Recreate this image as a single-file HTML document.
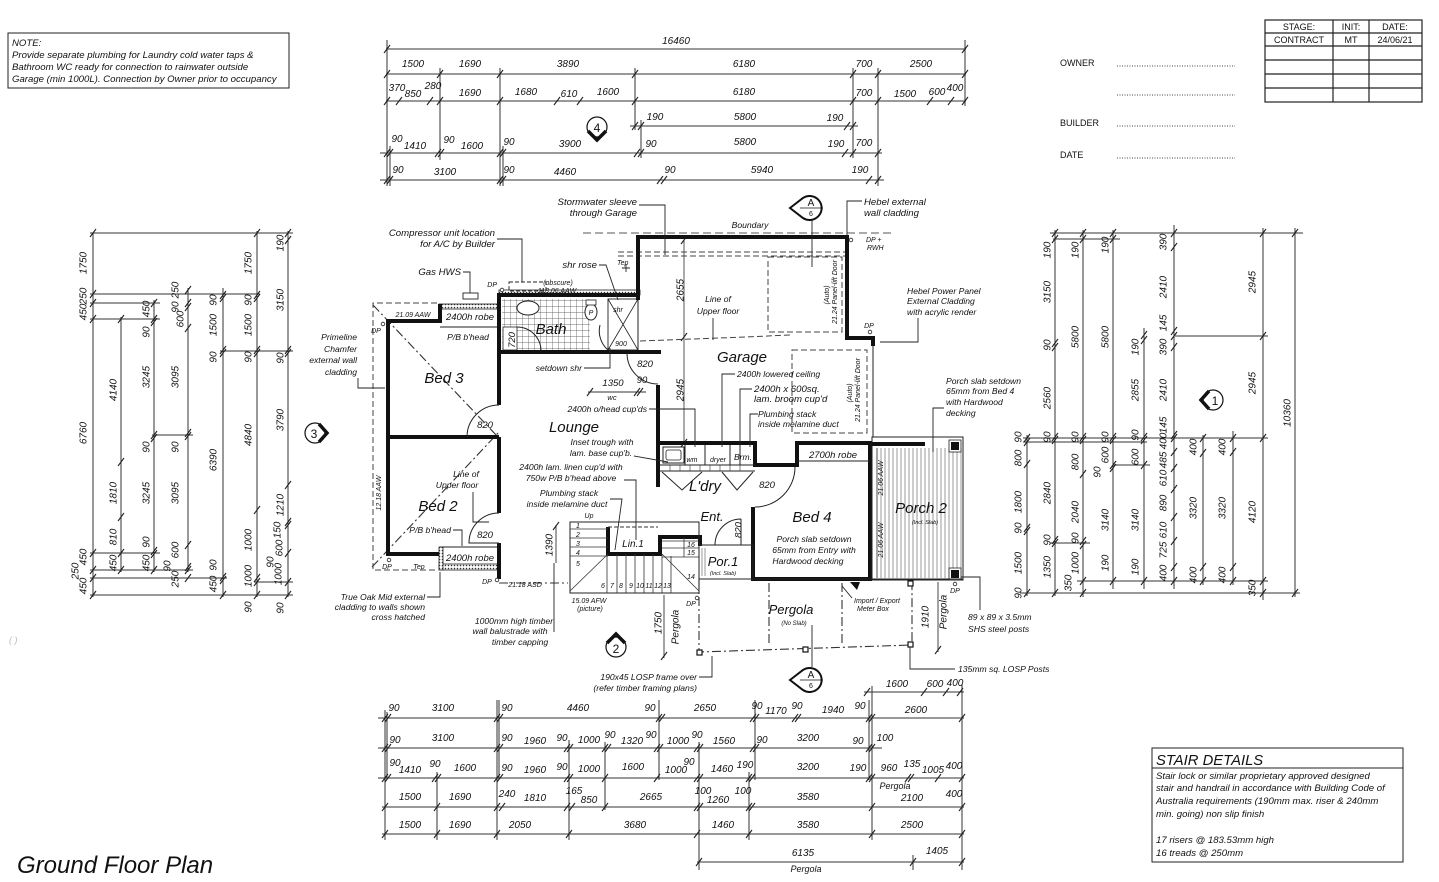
<!DOCTYPE html>
<html><head><meta charset="utf-8"><style>
html,body{margin:0;padding:0;background:#fff;}
svg{display:block}
text{font-family:"Liberation Sans",Arial,sans-serif;font-style:italic;fill:#111}
.d{font-size:10px;text-anchor:middle}
.s{font-size:8.6px}
.b{font-size:9.6px}
.x{font-size:7px}
.m{text-anchor:middle}
.e{text-anchor:end}
.rm{font-size:15px;text-anchor:middle}
.n{font-style:normal}
.dl line{stroke:#333;stroke-width:1}
.w{stroke:#111;stroke-width:4;fill:none}
.t{stroke:#222;stroke-width:1;fill:none}
.ds{stroke:#444;stroke-width:1;fill:none;stroke-dasharray:6,3}
.dd{stroke:#333;stroke-width:1.1;fill:none;stroke-dasharray:9,3,2,3}
</style></head><body>
<svg width="1439" height="882" viewBox="0 0 1439 882" xmlns="http://www.w3.org/2000/svg">
<defs>
<path id="k" d="M-3,4L3,-4" stroke="#222" stroke-width="1.1"/>
<pattern id="h" width="3" height="3" patternUnits="userSpaceOnUse"><rect width="3" height="3" fill="#fff"/><circle cx="1.5" cy="1.5" r="0.8" fill="#333"/></pattern>
<pattern id="tile" width="6" height="6" patternUnits="userSpaceOnUse"><rect width="6" height="6" fill="#fff"/><path d="M0,0H6M0,0V6" stroke="#444" stroke-width="0.7"/></pattern>
</defs>

<!-- NOTE BOX -->
<rect x="8" y="33" width="281" height="55" fill="none" stroke="#222" stroke-width="1"/>
<text x="12" y="46" class="b">NOTE:</text>
<text x="12" y="58" class="b">Provide separate plumbing for Laundry cold water taps &amp;</text>
<text x="12" y="70" class="b">Bathroom WC ready for connection to rainwater outside</text>
<text x="12" y="82" class="b">Garage (min 1000L). Connection by Owner prior to occupancy</text>

<!-- OWNER / BUILDER -->
<g font-size="9" style="font-style:normal">
<text x="1060" y="66" class="n" font-size="9">OWNER</text>
<text x="1060" y="126" class="n" font-size="9">BUILDER</text>
<text x="1060" y="158" class="n" font-size="9">DATE</text>
</g>
<g stroke="#444" stroke-width="1" stroke-dasharray="1,1.5">
<line x1="1117" y1="66" x2="1235" y2="66"/><line x1="1117" y1="95" x2="1235" y2="95"/>
<line x1="1117" y1="126" x2="1235" y2="126"/><line x1="1117" y1="158" x2="1235" y2="158"/>
</g>
<!-- STAGE TABLE -->
<g stroke="#222" stroke-width="1.2" fill="none">
<rect x="1265" y="20" width="157" height="82"/>
<line x1="1333" y1="20" x2="1333" y2="102"/><line x1="1369" y1="20" x2="1369" y2="102"/>
<line x1="1265" y1="33" x2="1422" y2="33"/><line x1="1265" y1="46" x2="1422" y2="46"/>
<line x1="1265" y1="60" x2="1422" y2="60"/><line x1="1265" y1="74" x2="1422" y2="74"/>
<line x1="1265" y1="88" x2="1422" y2="88"/>
</g>
<g font-size="9">
<text x="1299" y="30" class="n m" font-size="9">STAGE:</text>
<text x="1351" y="30" class="n m" font-size="9">INIT:</text>
<text x="1395" y="30" class="n m" font-size="9">DATE:</text>
<text x="1299" y="43" class="n m" font-size="9">CONTRACT</text>
<text x="1351" y="43" class="n m" font-size="9">MT</text>
<text x="1395" y="43" class="n m" font-size="9">24/06/21</text>
</g>

<!-- TOP DIMENSIONS -->
<g class="dl">
<line x1="386" y1="49" x2="966" y2="49"/>
<line x1="386" y1="74" x2="966" y2="74"/>
<line x1="386" y1="101" x2="966" y2="101"/>
<line x1="630" y1="126" x2="858" y2="126"/>
<line x1="380" y1="153" x2="882" y2="153"/>
<line x1="380" y1="180" x2="884" y2="180"/>
<line x1="387" y1="40" x2="387" y2="186"/>
<line x1="390" y1="146" x2="390" y2="186"/>
<line x1="440" y1="68" x2="440" y2="160"/>
<line x1="500" y1="68" x2="500" y2="186"/>
<line x1="503" y1="146" x2="503" y2="186"/>
<line x1="635" y1="68" x2="635" y2="130"/>
<line x1="641" y1="120" x2="641" y2="158"/>
<line x1="853" y1="68" x2="853" y2="158"/>
<line x1="878" y1="68" x2="878" y2="186"/>
<line x1="965" y1="40" x2="965" y2="106"/>
</g>
<g>
<use href="#k" x="387" y="49"/><use href="#k" x="965" y="49"/>
<use href="#k" x="387" y="74"/><use href="#k" x="440" y="74"/><use href="#k" x="500" y="74"/><use href="#k" x="635" y="74"/><use href="#k" x="853" y="74"/><use href="#k" x="878" y="74"/><use href="#k" x="965" y="74"/>
<use href="#k" x="387" y="101"/><use href="#k" x="399" y="101"/><use href="#k" x="430" y="101"/><use href="#k" x="440" y="101"/><use href="#k" x="500" y="101"/><use href="#k" x="557" y="101"/><use href="#k" x="580" y="101"/><use href="#k" x="635" y="101"/><use href="#k" x="853" y="101"/><use href="#k" x="878" y="101"/><use href="#k" x="930" y="101"/><use href="#k" x="951" y="101"/><use href="#k" x="965" y="101"/>
<use href="#k" x="635" y="126"/><use href="#k" x="641" y="126"/><use href="#k" x="847" y="126"/><use href="#k" x="853" y="126"/>
<use href="#k" x="387" y="153"/><use href="#k" x="390" y="153"/><use href="#k" x="438" y="153"/><use href="#k" x="441" y="153"/><use href="#k" x="500" y="153"/><use href="#k" x="503" y="153"/><use href="#k" x="637" y="153"/><use href="#k" x="641" y="153"/><use href="#k" x="845" y="153"/><use href="#k" x="853" y="153"/><use href="#k" x="878" y="153"/>
<use href="#k" x="387" y="180"/><use href="#k" x="390" y="180"/><use href="#k" x="500" y="180"/><use href="#k" x="503" y="180"/><use href="#k" x="660" y="180"/><use href="#k" x="664" y="180"/><use href="#k" x="869" y="180"/><use href="#k" x="878" y="180"/>
</g>
<g class="d">
<text x="676" y="44" class="d">16460</text>
<text x="413" y="67" class="d">1500</text><text x="470" y="67" class="d">1690</text><text x="568" y="67" class="d">3890</text><text x="744" y="67" class="d">6180</text><text x="864" y="67" class="d">700</text><text x="921" y="67" class="d">2500</text>
<text x="397" y="91" class="d">370</text><text x="413" y="97" class="d">850</text><text x="433" y="89" class="d">280</text><text x="470" y="96" class="d">1690</text><text x="526" y="95" class="d">1680</text><text x="569" y="97" class="d">610</text><text x="608" y="95" class="d">1600</text><text x="744" y="95" class="d">6180</text><text x="864" y="96" class="d">700</text><text x="905" y="97" class="d">1500</text><text x="937" y="95" class="d">600</text><text x="955" y="91" class="d">400</text>
<text x="655" y="120" class="d">190</text><text x="745" y="120" class="d">5800</text><text x="835" y="121" class="d">190</text>
<text x="397" y="142" class="d">90</text><text x="415" y="149" class="d">1410</text><text x="449" y="143" class="d">90</text><text x="472" y="149" class="d">1600</text><text x="509" y="145" class="d">90</text><text x="570" y="147" class="d">3900</text><text x="651" y="147" class="d">90</text><text x="745" y="145" class="d">5800</text><text x="836" y="147" class="d">190</text><text x="864" y="146" class="d">700</text>
<text x="398" y="173" class="d">90</text><text x="445" y="175" class="d">3100</text><text x="509" y="173" class="d">90</text><text x="565" y="175" class="d">4460</text><text x="670" y="173" class="d">90</text><text x="762" y="173" class="d">5940</text><text x="860" y="173" class="d">190</text>
</g>

<!-- LEFT DIMENSIONS -->
<g class="dl">
<line x1="93" y1="233" x2="93" y2="597"/>
<line x1="121" y1="317" x2="121" y2="572"/>
<line x1="154" y1="300" x2="154" y2="572"/>
<line x1="188" y1="288" x2="188" y2="572"/>
<line x1="223" y1="288" x2="223" y2="597"/>
<line x1="257" y1="231" x2="257" y2="597"/>
<line x1="288" y1="231" x2="288" y2="597"/>
<line x1="90" y1="233" x2="293" y2="233"/>
<line x1="90" y1="294" x2="260" y2="294"/>
<line x1="90" y1="303" x2="160" y2="303"/>
<line x1="90" y1="319" x2="160" y2="319"/>
<line x1="220" y1="351" x2="293" y2="351"/>
<line x1="152" y1="435" x2="193" y2="435"/>
<line x1="90" y1="553" x2="160" y2="553"/>
<line x1="90" y1="570" x2="193" y2="570"/>
<line x1="90" y1="578" x2="227" y2="578"/>
<line x1="90" y1="595" x2="293" y2="595"/>
<line x1="254" y1="582" x2="293" y2="582"/>
</g>
<g>
<use href="#k" x="93" y="233"/><use href="#k" x="93" y="294"/><use href="#k" x="93" y="303"/><use href="#k" x="93" y="319"/><use href="#k" x="93" y="553"/><use href="#k" x="93" y="570"/><use href="#k" x="93" y="578"/><use href="#k" x="93" y="595"/>
<use href="#k" x="121" y="319"/><use href="#k" x="121" y="462"/><use href="#k" x="121" y="517"/><use href="#k" x="121" y="553"/><use href="#k" x="121" y="570"/>
<use href="#k" x="154" y="303"/><use href="#k" x="154" y="319"/><use href="#k" x="154" y="322"/><use href="#k" x="154" y="435"/><use href="#k" x="154" y="438"/><use href="#k" x="154" y="551"/><use href="#k" x="154" y="554"/><use href="#k" x="154" y="570"/>
<use href="#k" x="188" y="290"/><use href="#k" x="188" y="303"/><use href="#k" x="188" y="307"/><use href="#k" x="188" y="328"/><use href="#k" x="188" y="433"/><use href="#k" x="188" y="436"/><use href="#k" x="188" y="545"/><use href="#k" x="188" y="567"/><use href="#k" x="188" y="570"/><use href="#k" x="188" y="578"/>
<use href="#k" x="223" y="295"/><use href="#k" x="223" y="298"/><use href="#k" x="223" y="350"/><use href="#k" x="223" y="353"/><use href="#k" x="223" y="577"/><use href="#k" x="223" y="580"/><use href="#k" x="223" y="595"/>
<use href="#k" x="257" y="233"/><use href="#k" x="257" y="295"/><use href="#k" x="257" y="298"/><use href="#k" x="257" y="350"/><use href="#k" x="257" y="353"/><use href="#k" x="257" y="510"/><use href="#k" x="257" y="578"/><use href="#k" x="257" y="582"/><use href="#k" x="257" y="595"/>
<use href="#k" x="288" y="233"/><use href="#k" x="288" y="240"/><use href="#k" x="288" y="350"/><use href="#k" x="288" y="353"/><use href="#k" x="288" y="485"/><use href="#k" x="288" y="522"/><use href="#k" x="288" y="525"/><use href="#k" x="288" y="553"/><use href="#k" x="288" y="582"/><use href="#k" x="288" y="595"/>
</g>
<g class="d">
<text class="d" transform="translate(86.5,263) rotate(-90)">1750</text>
<text class="d" transform="translate(86.5,296) rotate(-90)">250</text>
<text class="d" transform="translate(86.5,312) rotate(-90)">450</text>
<text class="d" transform="translate(86.5,433) rotate(-90)">6760</text>
<text class="d" transform="translate(86.5,557) rotate(-90)">450</text>
<text class="d" transform="translate(78.5,571) rotate(-90)">250</text>
<text class="d" transform="translate(86.5,586) rotate(-90)">450</text>
<text class="d" transform="translate(116.5,390) rotate(-90)">4140</text>
<text class="d" transform="translate(116.5,493) rotate(-90)">1810</text>
<text class="d" transform="translate(116.5,537) rotate(-90)">810</text>
<text class="d" transform="translate(116.5,563) rotate(-90)">450</text>
<text class="d" transform="translate(149.5,309) rotate(-90)">450</text>
<text class="d" transform="translate(149.5,332) rotate(-90)">90</text>
<text class="d" transform="translate(149.5,377) rotate(-90)">3245</text>
<text class="d" transform="translate(149.5,447) rotate(-90)">90</text>
<text class="d" transform="translate(149.5,493) rotate(-90)">3245</text>
<text class="d" transform="translate(149.5,542) rotate(-90)">90</text>
<text class="d" transform="translate(149.5,563) rotate(-90)">450</text>
<text class="d" transform="translate(178.5,290) rotate(-90)">250</text>
<text class="d" transform="translate(178.5,307) rotate(-90)">90</text>
<text class="d" transform="translate(183.5,319) rotate(-90)">600</text>
<text class="d" transform="translate(178.5,377) rotate(-90)">3095</text>
<text class="d" transform="translate(178.5,447) rotate(-90)">90</text>
<text class="d" transform="translate(178.5,493) rotate(-90)">3095</text>
<text class="d" transform="translate(178.5,550) rotate(-90)">600</text>
<text class="d" transform="translate(170.5,566) rotate(-90)">90</text>
<text class="d" transform="translate(178.5,579) rotate(-90)">250</text>
<text class="d" transform="translate(216.5,300) rotate(-90)">90</text>
<text class="d" transform="translate(216.5,325) rotate(-90)">1500</text>
<text class="d" transform="translate(216.5,357) rotate(-90)">90</text>
<text class="d" transform="translate(216.5,460) rotate(-90)">6390</text>
<text class="d" transform="translate(216.5,565) rotate(-90)">90</text>
<text class="d" transform="translate(216.5,584) rotate(-90)">450</text>
<text class="d" transform="translate(251.5,263) rotate(-90)">1750</text>
<text class="d" transform="translate(251.5,300) rotate(-90)">90</text>
<text class="d" transform="translate(251.5,325) rotate(-90)">1500</text>
<text class="d" transform="translate(251.5,357) rotate(-90)">90</text>
<text class="d" transform="translate(251.5,435) rotate(-90)">4840</text>
<text class="d" transform="translate(251.5,540) rotate(-90)">1000</text>
<text class="d" transform="translate(251.5,576) rotate(-90)">1000</text>
<text class="d" transform="translate(251.5,607) rotate(-90)">90</text>
<text class="d" transform="translate(283.5,243) rotate(-90)">190</text>
<text class="d" transform="translate(283.5,300) rotate(-90)">3150</text>
<text class="d" transform="translate(283.5,358) rotate(-90)">90</text>
<text class="d" transform="translate(283.5,420) rotate(-90)">3790</text>
<text class="d" transform="translate(283.5,505) rotate(-90)">1210</text>
<text class="d" transform="translate(280.5,530) rotate(-90)">150</text>
<text class="d" transform="translate(282.5,548) rotate(-90)">600</text>
<text class="d" transform="translate(273.5,562) rotate(-90)">90</text>
<text class="d" transform="translate(281.5,574) rotate(-90)">1000</text>
<text class="d" transform="translate(283.5,608) rotate(-90)">90</text>
</g>

<!-- RIGHT DIMENSIONS -->
<g class="dl">
<line x1="1027" y1="435" x2="1027" y2="596"/>
<line x1="1055" y1="230" x2="1055" y2="596"/>
<line x1="1083" y1="230" x2="1083" y2="597"/>
<line x1="1113" y1="230" x2="1113" y2="589"/>
<line x1="1144" y1="328" x2="1144" y2="589"/>
<line x1="1174" y1="225" x2="1174" y2="589"/>
<line x1="1203" y1="435" x2="1203" y2="585"/>
<line x1="1233" y1="431" x2="1233" y2="585"/>
<line x1="1263" y1="228" x2="1263" y2="600"/>
<line x1="1295" y1="228" x2="1295" y2="597"/>
<line x1="1050" y1="233" x2="1303" y2="233"/>
<line x1="1053" y1="239" x2="1120" y2="239"/>
<line x1="1175" y1="336" x2="1268" y2="336"/>
<line x1="1023" y1="438" x2="1268" y2="438"/>
<line x1="1023" y1="442" x2="1147" y2="442"/>
<line x1="1113" y1="465" x2="1150" y2="465"/>
<line x1="1050" y1="543" x2="1090" y2="543"/>
<line x1="1077" y1="581" x2="1268" y2="581"/>
<line x1="1020" y1="593" x2="1300" y2="593"/>
</g>
<g>
<use href="#k" x="1027" y="438"/><use href="#k" x="1027" y="442"/><use href="#k" x="1027" y="464"/><use href="#k" x="1027" y="528"/><use href="#k" x="1027" y="531"/><use href="#k" x="1027" y="593"/>
<use href="#k" x="1055" y="233"/><use href="#k" x="1055" y="239"/><use href="#k" x="1055" y="343"/><use href="#k" x="1055" y="347"/><use href="#k" x="1055" y="437"/><use href="#k" x="1055" y="440"/><use href="#k" x="1055" y="540"/><use href="#k" x="1055" y="543"/><use href="#k" x="1055" y="593"/>
<use href="#k" x="1083" y="233"/><use href="#k" x="1083" y="239"/><use href="#k" x="1083" y="437"/><use href="#k" x="1083" y="440"/><use href="#k" x="1083" y="474"/><use href="#k" x="1083" y="541"/><use href="#k" x="1083" y="545"/><use href="#k" x="1083" y="581"/><use href="#k" x="1083" y="593"/>
<use href="#k" x="1113" y="233"/><use href="#k" x="1113" y="239"/><use href="#k" x="1113" y="437"/><use href="#k" x="1113" y="440"/><use href="#k" x="1113" y="465"/><use href="#k" x="1113" y="468"/><use href="#k" x="1113" y="581"/>
<use href="#k" x="1144" y="335"/><use href="#k" x="1144" y="340"/><use href="#k" x="1144" y="437"/><use href="#k" x="1144" y="440"/><use href="#k" x="1144" y="465"/><use href="#k" x="1144" y="581"/>
<use href="#k" x="1174" y="233"/><use href="#k" x="1174" y="247"/><use href="#k" x="1174" y="331"/><use href="#k" x="1174" y="336"/><use href="#k" x="1174" y="347"/><use href="#k" x="1174" y="435"/><use href="#k" x="1174" y="438"/><use href="#k" x="1174" y="452"/><use href="#k" x="1174" y="468"/><use href="#k" x="1174" y="489"/><use href="#k" x="1174" y="517"/><use href="#k" x="1174" y="541"/><use href="#k" x="1174" y="567"/><use href="#k" x="1174" y="581"/>
<use href="#k" x="1203" y="438"/><use href="#k" x="1203" y="453"/><use href="#k" x="1203" y="567"/><use href="#k" x="1203" y="581"/>
<use href="#k" x="1233" y="438"/><use href="#k" x="1233" y="452"/><use href="#k" x="1233" y="567"/><use href="#k" x="1233" y="581"/>
<use href="#k" x="1263" y="233"/><use href="#k" x="1263" y="336"/><use href="#k" x="1263" y="438"/><use href="#k" x="1263" y="581"/><use href="#k" x="1263" y="593"/>
<use href="#k" x="1295" y="233"/><use href="#k" x="1295" y="593"/>
</g>
<g class="d">
<text class="d" transform="translate(1021.5,437) rotate(-90)">90</text>
<text class="d" transform="translate(1021.5,458) rotate(-90)">800</text>
<text class="d" transform="translate(1021.5,502) rotate(-90)">1800</text>
<text class="d" transform="translate(1021.5,528) rotate(-90)">90</text>
<text class="d" transform="translate(1021.5,563) rotate(-90)">1500</text>
<text class="d" transform="translate(1021.5,593) rotate(-90)">90</text>
<text class="d" transform="translate(1050.5,250) rotate(-90)">190</text>
<text class="d" transform="translate(1050.5,292) rotate(-90)">3150</text>
<text class="d" transform="translate(1050.5,345) rotate(-90)">90</text>
<text class="d" transform="translate(1050.5,398) rotate(-90)">2560</text>
<text class="d" transform="translate(1050.5,437) rotate(-90)">90</text>
<text class="d" transform="translate(1050.5,493) rotate(-90)">2840</text>
<text class="d" transform="translate(1050.5,540) rotate(-90)">90</text>
<text class="d" transform="translate(1050.5,567) rotate(-90)">1350</text>
<text class="d" transform="translate(1078.5,250) rotate(-90)">190</text>
<text class="d" transform="translate(1078.5,337) rotate(-90)">5800</text>
<text class="d" transform="translate(1078.5,437) rotate(-90)">90</text>
<text class="d" transform="translate(1078.5,462) rotate(-90)">800</text>
<text class="d" transform="translate(1078.5,512) rotate(-90)">2040</text>
<text class="d" transform="translate(1078.5,538) rotate(-90)">90</text>
<text class="d" transform="translate(1078.5,563) rotate(-90)">1000</text>
<text class="d" transform="translate(1071.5,583) rotate(-90)">350</text>
<text class="d" transform="translate(1108.5,245) rotate(-90)">190</text>
<text class="d" transform="translate(1108.5,337) rotate(-90)">5800</text>
<text class="d" transform="translate(1108.5,437) rotate(-90)">90</text>
<text class="d" transform="translate(1108.5,455) rotate(-90)">600</text>
<text class="d" transform="translate(1100.5,472) rotate(-90)">90</text>
<text class="d" transform="translate(1108.5,520) rotate(-90)">3140</text>
<text class="d" transform="translate(1108.5,563) rotate(-90)">190</text>
<text class="d" transform="translate(1138.5,347) rotate(-90)">190</text>
<text class="d" transform="translate(1138.5,390) rotate(-90)">2855</text>
<text class="d" transform="translate(1138.5,435) rotate(-90)">90</text>
<text class="d" transform="translate(1138.5,457) rotate(-90)">600</text>
<text class="d" transform="translate(1138.5,520) rotate(-90)">3140</text>
<text class="d" transform="translate(1138.5,567) rotate(-90)">190</text>
<text class="d" transform="translate(1166.5,242) rotate(-90)">390</text>
<text class="d" transform="translate(1166.5,287) rotate(-90)">2410</text>
<text class="d" transform="translate(1166.5,323) rotate(-90)">145</text>
<text class="d" transform="translate(1166.5,347) rotate(-90)">390</text>
<text class="d" transform="translate(1166.5,390) rotate(-90)">2410</text>
<text class="d" transform="translate(1166.5,425) rotate(-90)">145</text>
<text class="d" transform="translate(1166.5,441) rotate(-90)">400</text>
<text class="d" transform="translate(1166.5,460) rotate(-90)">485</text>
<text class="d" transform="translate(1166.5,478) rotate(-90)">610</text>
<text class="d" transform="translate(1166.5,503) rotate(-90)">890</text>
<text class="d" transform="translate(1166.5,530) rotate(-90)">610</text>
<text class="d" transform="translate(1166.5,550) rotate(-90)">725</text>
<text class="d" transform="translate(1166.5,573) rotate(-90)">400</text>
<text class="d" transform="translate(1196.5,447) rotate(-90)">400</text>
<text class="d" transform="translate(1196.5,508) rotate(-90)">3320</text>
<text class="d" transform="translate(1196.5,575) rotate(-90)">400</text>
<text class="d" transform="translate(1225.5,447) rotate(-90)">400</text>
<text class="d" transform="translate(1225.5,508) rotate(-90)">3320</text>
<text class="d" transform="translate(1225.5,575) rotate(-90)">400</text>
<text class="d" transform="translate(1255.5,282) rotate(-90)">2945</text>
<text class="d" transform="translate(1255.5,383) rotate(-90)">2945</text>
<text class="d" transform="translate(1255.5,512) rotate(-90)">4120</text>
<text class="d" transform="translate(1255.5,588) rotate(-90)">350</text>
<text class="d" transform="translate(1290.5,413) rotate(-90)">10360</text>
</g>

<!-- BOTTOM DIMENSIONS -->
<g class="dl">
<line x1="864" y1="692" x2="964" y2="692"/>
<line x1="378" y1="718" x2="964" y2="718"/>
<line x1="378" y1="748" x2="882" y2="748"/>
<line x1="378" y1="778" x2="964" y2="778"/>
<line x1="382" y1="807" x2="964" y2="807"/>
<line x1="382" y1="834" x2="964" y2="834"/>
<line x1="697" y1="862" x2="964" y2="862"/>
<line x1="385" y1="710" x2="385" y2="840"/>
<line x1="387" y1="712" x2="387" y2="780"/>
<line x1="437" y1="772" x2="437" y2="840"/>
<line x1="497" y1="700" x2="497" y2="840"/>
<line x1="499" y1="700" x2="499" y2="780"/>
<line x1="569" y1="740" x2="569" y2="840"/>
<line x1="605" y1="742" x2="605" y2="810"/>
<line x1="659" y1="700" x2="659" y2="780"/>
<line x1="699" y1="742" x2="699" y2="870"/>
<line x1="749" y1="772" x2="749" y2="840"/>
<line x1="755" y1="700" x2="755" y2="780"/>
<line x1="869" y1="700" x2="869" y2="780"/>
<line x1="872" y1="686" x2="872" y2="840"/>
<line x1="913" y1="855" x2="913" y2="870"/>
<line x1="962" y1="684" x2="962" y2="870"/>
</g>
<g>
<use href="#k" x="867" y="692"/><use href="#k" x="924" y="692"/><use href="#k" x="946" y="692"/><use href="#k" x="960" y="692"/>
<use href="#k" x="385" y="718"/><use href="#k" x="388" y="718"/><use href="#k" x="497" y="718"/><use href="#k" x="500" y="718"/><use href="#k" x="659" y="718"/><use href="#k" x="662" y="718"/><use href="#k" x="753" y="718"/><use href="#k" x="756" y="718"/><use href="#k" x="795" y="718"/><use href="#k" x="798" y="718"/><use href="#k" x="869" y="718"/><use href="#k" x="872" y="718"/><use href="#k" x="962" y="718"/>
<use href="#k" x="385" y="748"/><use href="#k" x="388" y="748"/><use href="#k" x="497" y="748"/><use href="#k" x="500" y="748"/><use href="#k" x="567" y="748"/><use href="#k" x="570" y="748"/><use href="#k" x="605" y="748"/><use href="#k" x="608" y="748"/><use href="#k" x="657" y="748"/><use href="#k" x="660" y="748"/><use href="#k" x="697" y="748"/><use href="#k" x="700" y="748"/><use href="#k" x="753" y="748"/><use href="#k" x="756" y="748"/><use href="#k" x="869" y="748"/><use href="#k" x="872" y="748"/>
<use href="#k" x="385" y="778"/><use href="#k" x="388" y="778"/><use href="#k" x="435" y="778"/><use href="#k" x="438" y="778"/><use href="#k" x="497" y="778"/><use href="#k" x="500" y="778"/><use href="#k" x="567" y="778"/><use href="#k" x="570" y="778"/><use href="#k" x="605" y="778"/><use href="#k" x="657" y="778"/><use href="#k" x="697" y="778"/><use href="#k" x="700" y="778"/><use href="#k" x="749" y="778"/><use href="#k" x="752" y="778"/><use href="#k" x="869" y="778"/><use href="#k" x="872" y="778"/><use href="#k" x="908" y="778"/><use href="#k" x="911" y="778"/><use href="#k" x="938" y="778"/><use href="#k" x="962" y="778"/>
<use href="#k" x="385" y="807"/><use href="#k" x="437" y="807"/><use href="#k" x="497" y="807"/><use href="#k" x="502" y="807"/><use href="#k" x="567" y="807"/><use href="#k" x="572" y="807"/><use href="#k" x="605" y="807"/><use href="#k" x="697" y="807"/><use href="#k" x="700" y="807"/><use href="#k" x="749" y="807"/><use href="#k" x="752" y="807"/><use href="#k" x="872" y="807"/><use href="#k" x="962" y="807"/>
<use href="#k" x="385" y="834"/><use href="#k" x="437" y="834"/><use href="#k" x="497" y="834"/><use href="#k" x="569" y="834"/><use href="#k" x="697" y="834"/><use href="#k" x="749" y="834"/><use href="#k" x="872" y="834"/><use href="#k" x="962" y="834"/>
<use href="#k" x="699" y="862"/><use href="#k" x="913" y="862"/><use href="#k" x="962" y="862"/>
</g>
<g class="d">
<text x="897" y="687" class="d">1600</text><text x="935" y="687" class="d">600</text><text x="955" y="686" class="d">400</text>
<text x="394" y="711" class="d">90</text><text x="443" y="711" class="d">3100</text><text x="507" y="711" class="d">90</text><text x="578" y="711" class="d">4460</text><text x="650" y="711" class="d">90</text><text x="705" y="711" class="d">2650</text><text x="757" y="709" class="d">90</text><text x="776" y="714" class="d">1170</text><text x="797" y="709" class="d">90</text><text x="833" y="713" class="d">1940</text><text x="860" y="709" class="d">90</text><text x="916" y="713" class="d">2600</text>
<text x="395" y="743" class="d">90</text><text x="443" y="741" class="d">3100</text><text x="507" y="741" class="d">90</text><text x="535" y="744" class="d">1960</text><text x="562" y="741" class="d">90</text><text x="589" y="743" class="d">1000</text><text x="610" y="738" class="d">90</text><text x="632" y="744" class="d">1320</text><text x="651" y="738" class="d">90</text><text x="678" y="744" class="d">1000</text><text x="697" y="738" class="d">90</text><text x="724" y="744" class="d">1560</text><text x="762" y="743" class="d">90</text><text x="808" y="741" class="d">3200</text><text x="858" y="744" class="d">90</text><text x="885" y="741" class="d">100</text>
<text x="395" y="766" class="d">90</text><text x="410" y="773" class="d">1410</text><text x="435" y="767" class="d">90</text><text x="465" y="771" class="d">1600</text><text x="507" y="771" class="d">90</text><text x="535" y="773" class="d">1960</text><text x="562" y="770" class="d">90</text><text x="589" y="772" class="d">1000</text><text x="633" y="770" class="d">1600</text><text x="676" y="773" class="d">1000</text><text x="689" y="765" class="d">90</text><text x="722" y="772" class="d">1460</text><text x="745" y="768" class="d">190</text><text x="808" y="770" class="d">3200</text><text x="858" y="771" class="d">190</text><text x="889" y="771" class="d">960</text><text x="912" y="767" class="d">135</text><text x="933" y="773" class="d">1005</text><text x="954" y="769" class="d">400</text>
<text x="410" y="800" class="d">1500</text><text x="460" y="800" class="d">1690</text><text x="507" y="797" class="d">240</text><text x="535" y="801" class="d">1810</text><text x="574" y="794" class="d">165</text><text x="589" y="803" class="d">850</text><text x="651" y="800" class="d">2665</text><text x="703" y="794" class="d">100</text><text x="718" y="803" class="d">1260</text><text x="743" y="794" class="d">100</text><text x="808" y="800" class="d">3580</text><text x="895" y="789" class="d" style="font-size:9px">Pergola</text><text x="912" y="801" class="d">2100</text><text x="954" y="797" class="d">400</text>
<text x="410" y="828" class="d">1500</text><text x="460" y="828" class="d">1690</text><text x="520" y="828" class="d">2050</text><text x="635" y="828" class="d">3680</text><text x="723" y="828" class="d">1460</text><text x="808" y="828" class="d">3580</text><text x="912" y="828" class="d">2500</text>
<text x="803" y="856" class="d">6135</text><text x="937" y="854" class="d">1405</text>
<text x="806" y="872" class="d" style="font-size:9px">Pergola</text>
</g>

<!-- PLAN : dashed / dash-dot lines -->
<line x1="583" y1="233" x2="892" y2="233" stroke="#555" stroke-width="1" stroke-dasharray="8,4"/>
<line x1="618" y1="252" x2="850" y2="252" class="ds"/>
<line x1="618" y1="256" x2="850" y2="256" class="ds"/>
<polyline points="437,303 373,303 373,570 437,570" class="ds"/>
<line x1="373" y1="305" x2="498" y2="437" class="dd"/>
<line x1="372" y1="567" x2="499" y2="432" class="dd"/>
<polyline points="640,341 745,337 790,335" class="ds"/>
<rect x="768" y="257" width="74" height="75" class="ds"/>
<rect x="792" y="350" width="75" height="83" class="ds"/>
<line x1="684" y1="240" x2="684" y2="443" stroke="#444" stroke-width="0.9"/>
<use href="#k" x="684" y="240"/><use href="#k" x="684" y="337"/><use href="#k" x="684" y="443"/>
<polyline points="699,580 699,652 912,645 912,580" class="dd"/>
<line x1="769" y1="583" x2="769" y2="645" class="dd"/>
<line x1="842" y1="583" x2="842" y2="645" class="dd"/>
<line x1="499" y1="583" x2="568" y2="583" class="dd"/>

<!-- hatched cladding strips -->
<rect x="439" y="304" width="59" height="5" fill="url(#h)" stroke="#222" stroke-width="0.8"/>
<rect x="499" y="290" width="141" height="5" fill="url(#h)" stroke="#222" stroke-width="0.8"/>
<rect x="439" y="564" width="60" height="6" fill="url(#h)" stroke="#222" stroke-width="0.8"/>
<rect x="439" y="547" width="4" height="23" fill="url(#h)" stroke="#222" stroke-width="0.8"/>

<!-- Bath interior -->
<rect x="502" y="299" width="88" height="51" fill="url(#tile)"/>
<rect x="503" y="327" width="14" height="23" fill="#fff" stroke="#222" stroke-width="0.8"/>
<ellipse cx="528" cy="308" rx="11" ry="7" fill="#fff" stroke="#222" stroke-width="1"/>
<ellipse cx="591" cy="312" rx="6" ry="8" fill="#fff" stroke="#222" stroke-width="1"/>
<rect x="586" y="300" width="10" height="5" fill="#fff" stroke="#222" stroke-width="0.8"/>
<rect x="608" y="299" width="30" height="51" fill="none" stroke="#222" stroke-width="0.9"/>
<path d="M608,299 L638,350 M638,299 L608,350" stroke="#222" stroke-width="0.8"/>
<path d="M517,327 A24,24 0 0 1 541,351" class="t"/>
<path d="M600,325 A25,25 0 0 0 608,350" class="t"/>

<!-- WALLS -->
<path d="M440,321 H388 V554 H439" class="w"/>
<path d="M440,304 V323" class="w" stroke-width="3"/>
<line x1="440" y1="327" x2="498" y2="327" class="t"/>
<line x1="440" y1="547" x2="499" y2="547" class="t"/>
<path d="M388,437 H499" class="w"/>
<path d="M499,405 V295 H640" class="w"/>
<path d="M499,437 V513" class="w"/>
<path d="M499,543 V579" class="w"/>
<path d="M638,300 V237 H847 V338 H873 V346" class="w"/>
<line x1="638" y1="300" x2="638" y2="352" class="t" stroke-width="1.5"/>
<line x1="873" y1="346" x2="873" y2="437" class="t"/>
<path d="M499,352 H661" class="w"/>
<path d="M658,385 V487" class="w"/>
<path d="M658,443 H755 V465 H797 V443 H870 V579 H753 V507" class="w"/>
<line x1="797" y1="461" x2="870" y2="461" class="t"/>
<path d="M608,527 V554 H660 V537 H700 V546" class="w" stroke-width="3.5"/>
<line x1="608" y1="527" x2="658" y2="527" stroke="#333" stroke-width="1" stroke-dasharray="4,2"/>

<!-- Door arcs -->
<path d="M499,405 A32,32 0 0 0 467,437" class="t"/>
<path d="M499,513 A30,30 0 0 0 469,543 H499" class="t"/>
<path d="M627,353 A31,31 0 0 0 658,384" class="t"/>
<path d="M795,467 A40,40 0 0 1 755,507" class="t"/>
<path d="M741,519 A26,26 0 0 0 715,545 M741,519 V545" class="t"/>

<!-- Laundry fixtures -->
<rect x="663" y="447" width="21" height="16" fill="#fff" stroke="#222" stroke-width="1"/>
<rect x="666" y="450" width="15" height="10" rx="2" fill="none" stroke="#222" stroke-width="0.8"/>
<path d="M685,445 V465 M705,445 V465 M730,445 V465 M740,445 V465" class="t" stroke-width="0.8"/>
<line x1="660" y1="465" x2="755" y2="465" class="t"/>
<line x1="660" y1="471" x2="755" y2="471" class="t" stroke-width="0.8"/>
<path d="M670,465V471M680,465V471M690,465V471M700,465V471M710,465V471M720,465V471M730,465V471M740,465V471" stroke="#333" stroke-width="0.6"/>
<polyline points="662,472 682,490 702,472" class="t"/>
<polyline points="722,472 737,490 753,472" class="t"/>

<!-- Stair -->
<rect x="570" y="522" width="129" height="71" fill="none" stroke="#222" stroke-width="1"/>
<g stroke="#333" stroke-width="0.8">
<line x1="570" y1="529" x2="608" y2="529"/><line x1="570" y1="538" x2="608" y2="538"/><line x1="570" y1="547" x2="608" y2="547"/><line x1="570" y1="556" x2="608" y2="556"/>
<line x1="570" y1="591" x2="608" y2="554"/><line x1="662" y1="554" x2="699" y2="591"/>
<line x1="607" y1="556" x2="607" y2="593"/><line x1="617" y1="554" x2="617" y2="593"/><line x1="626" y1="554" x2="626" y2="593"/><line x1="635" y1="554" x2="635" y2="593"/><line x1="644" y1="554" x2="644" y2="593"/><line x1="653" y1="554" x2="653" y2="593"/><line x1="662" y1="554" x2="662" y2="593"/><line x1="671" y1="556" x2="671" y2="593"/>
<line x1="662" y1="541" x2="699" y2="541"/><line x1="662" y1="548" x2="699" y2="548"/><line x1="662" y1="557" x2="699" y2="557"/>
<line x1="684" y1="537" x2="684" y2="557"/>
</g>
<g class="x">
<text x="578" y="528" class="x m">1</text><text x="578" y="537" class="x m">2</text><text x="578" y="546" class="x m">3</text><text x="578" y="555" class="x m">4</text><text x="578" y="566" class="x m">5</text>
<text x="603" y="588" class="x m">6</text><text x="612" y="588" class="x m">7</text><text x="621" y="588" class="x m">8</text><text x="631" y="588" class="x m">9</text><text x="640" y="588" class="x m">10</text><text x="649" y="588" class="x m">11</text><text x="658" y="588" class="x m">12</text><text x="667" y="588" class="x m">13</text>
<text x="691" y="547" class="x m">16</text><text x="691" y="555" class="x m">15</text><text x="691" y="579" class="x m">14</text>
</g>
<text x="633" y="547" class="m" font-size="10">Lin.1</text>
<text x="589" y="518" class="x m">Up</text>

<!-- Por.1 -->
<rect x="699" y="545" width="54" height="34" fill="none" stroke="#222" stroke-width="1"/>
<path d="M702,548V576M705,548V576" stroke="#555" stroke-width="0.6"/>

<!-- Porch 2 -->
<rect x="872" y="437" width="91" height="143" fill="none" stroke="#222" stroke-width="1"/>
<line x1="877" y1="447" x2="877" y2="578" stroke="#222" stroke-width="0.8"/>
<g stroke="#555" stroke-width="0.6">
<path d="M881,448V578M885,448V578M889,448V578M893,448V578M897,448V578M901,448V578M905,448V578M909,448V578M913,448V578M917,448V578M921,448V578M925,448V578M929,448V578M933,448V578M937,448V578M941,448V578M945,448V578M949,448V578M953,448V578M957,448V578M961,448V578"/>
</g>
<rect x="874" y="440" width="52" height="8" fill="#fff" stroke="none"/>
<path d="M872,444 H925" class="w" stroke-width="5"/>
<rect x="949" y="440" width="12" height="12" fill="#fff" stroke="#222" stroke-width="0.8"/>
<rect x="951" y="442" width="8" height="8" fill="#111"/>
<rect x="949" y="568" width="12" height="12" fill="#fff" stroke="#222" stroke-width="0.8"/>
<rect x="951" y="570" width="8" height="8" fill="#111"/>
<line x1="753" y1="579" x2="963" y2="579" class="t"/>

<!-- Pergola posts & dims -->
<rect x="697" y="650" width="5" height="5" fill="#fff" stroke="#111" stroke-width="1.2"/>
<rect x="803" y="647" width="5" height="5" fill="#fff" stroke="#111" stroke-width="1.2"/>
<rect x="908" y="642" width="5" height="5" fill="#fff" stroke="#111" stroke-width="1.2"/>
<rect x="908" y="581" width="5" height="5" fill="#fff" stroke="#111" stroke-width="1.2"/>
<path d="M850,582 L860,582 L857,590 Z" fill="#111"/>
<line x1="664" y1="595" x2="664" y2="658" stroke="#333" stroke-width="0.9"/><use href="#k" x="664" y="656"/>
<line x1="938" y1="582" x2="938" y2="652" stroke="#333" stroke-width="0.9"/><use href="#k" x="938" y="650"/>
<line x1="556" y1="525" x2="556" y2="563" stroke="#333" stroke-width="0.9"/><use href="#k" x="556" y="526"/>
<line x1="588" y1="392" x2="646" y2="392" stroke="#333" stroke-width="0.9"/><use href="#k" x="590" y="392"/><use href="#k" x="637" y="392"/><use href="#k" x="640" y="392"/>

<!-- small DP circles -->
<g fill="#fff" stroke="#222" stroke-width="0.8">
<circle cx="383" cy="324" r="1.8"/><circle cx="502" cy="290" r="1.8"/><circle cx="389" cy="560" r="1.8"/><circle cx="497" cy="580" r="1.8"/><circle cx="697" cy="598" r="1.8"/><circle cx="870" cy="332" r="1.8"/><circle cx="851" cy="240" r="1.8"/><circle cx="955" cy="584" r="1.8"/>
</g>

<!-- LEADERS -->
<g stroke="#222" stroke-width="0.9" fill="none">
<polyline points="639,205 665,205 665,255"/>
<polyline points="862,201 847,201 847,237"/>
<polyline points="497,239 522,239 522,282"/>
<polyline points="463,272 470,272 470,293"/>
<polyline points="599,265 606,265 618,300"/>
<polyline points="584,368 610,368 610,348"/>
<polyline points="649,409 695,409 695,447"/>
<polyline points="634,456 668,462"/>
<polyline points="624,480 636,480 636,540"/>
<polyline points="610,499 622,499 615,550"/>
<polyline points="735,374 722,374 722,447"/>
<polyline points="752,389 740,389 740,447"/>
<polyline points="758,414 750,414 750,447"/>
<polyline points="713,318 713,340"/>
<polyline points="918,318 918,342 880,342"/>
<polyline points="944,408 933,408 933,452"/>
<polyline points="961,577 980,577 980,610"/>
<polyline points="852,598 842,586"/>
<polyline points="910,647 910,669 955,669"/>
<polyline points="699,677 712,677 712,656"/>
<polyline points="427,597 440,597 440,572"/>
<polyline points="554,563 554,632"/>
<polyline points="358,378 358,388 385,388"/>
<polyline points="473,492 473,522 489,522"/>
<polyline points="453,530 462,530 462,546"/>
<polyline points="812,220 812,267"/>
<polyline points="812,625 812,667"/>
<rect x="509" y="282" width="37" height="9" stroke-dasharray="4,2"/>
<rect x="463" y="293" width="15" height="6" fill="#fff"/>
<path d="M622,268h8M626,264v8"/>
</g>

<!-- LABELS -->
<g class="s">
<text x="637" y="205" class="b e">Stormwater sleeve</text>
<text x="637" y="216" class="b e">through Garage</text>
<text x="864" y="205" class="b">Hebel external</text>
<text x="864" y="216" class="b">wall cladding</text>
<text x="750" y="228" class="s m">Boundary</text>
<text x="495" y="236" class="b e">Compressor unit location</text>
<text x="495" y="247" class="b e">for A/C by Builder</text>
<text x="461" y="275" class="b e">Gas HWS</text>
<text x="597" y="268" class="b e">shr rose</text>
<text x="582" y="371" class="s e" font-size="8">setdown shr</text>
<text x="647" y="412" class="s e">2400h o/head cup'ds</text>
<text x="602" y="445" class="s m">Inset trough with</text>
<text x="601" y="456" class="s m">lam. base cup'b.</text>
<text x="571" y="470" class="s m">2400h lam. linen cup'd with</text>
<text x="571" y="481" class="s m">750w P/B b'head above</text>
<text x="569" y="496" class="s m">Plumbing stack</text>
<text x="567" y="507" class="s m">inside melamine duct</text>
<text x="737" y="377" class="s" font-size="9.2">2400h lowered ceiling</text>
<text x="754" y="392" class="b">2400h x 600sq.</text>
<text x="754" y="402" class="b">lam. broom cup'd</text>
<text x="758" y="417" class="s">Plumbing stack</text>
<text x="758" y="427" class="s">inside melamine duct</text>
<text x="718" y="302" class="s m" font-size="9">Line of</text>
<text x="718" y="314" class="s m">Upper floor</text>
<text x="466" y="477" class="s m">Line of</text>
<text x="457" y="488" class="s m">Upper floor</text>
<text x="907" y="294" class="s">Hebel Power Panel</text>
<text x="907" y="304" class="s">External Cladding</text>
<text x="907" y="315" class="s">with acrylic render</text>
<text x="946" y="384" class="s">Porch slab setdown</text>
<text x="946" y="394" class="s">65mm from Bed 4</text>
<text x="946" y="405" class="s">with Hardwood</text>
<text x="946" y="416" class="s">decking</text>
<text x="814" y="542" class="s m">Porch slab setdown</text>
<text x="814" y="553" class="s m">65mm from Entry with</text>
<text x="808" y="564" class="s m">Hardwood decking</text>
<text x="968" y="620" class="s" font-size="9">89 x 89 x 3.5mm</text>
<text x="968" y="632" class="s" font-size="9">SHS steel posts</text>
<text x="958" y="672" class="s">135mm sq. LOSP Posts</text>
<text x="697" y="680" class="s e">190x45 LOSP frame over</text>
<text x="697" y="691" class="s e">(refer timber framing plans)</text>
<text x="425" y="600" class="s e">True Oak Mid external</text>
<text x="425" y="610" class="s e">cladding to walls shown</text>
<text x="425" y="620" class="s e">cross hatched</text>
<text x="514" y="624" class="s m">1000mm high timber</text>
<text x="510" y="634" class="s m">wall balustrade with</text>
<text x="520" y="645" class="s m">timber capping</text>
<text x="357" y="340" class="s e">Primeline</text>
<text x="357" y="352" class="s e">Chamfer</text>
<text x="357" y="363" class="s e">external wall</text>
<text x="357" y="375" class="s e">cladding</text>
<text x="854" y="603" class="x">Import / Export</text>
<text x="857" y="611" class="x">Meter Box</text>
<text x="451" y="533" class="s e" font-size="9.5">P/B b'head</text>
<text x="468" y="340" class="s m" font-size="9.5">P/B b'head</text>
</g>
<g class="x">
<text x="497" y="287" class="x e">DP</text>
<text x="558" y="285" class="x m">(obscure)</text>
<text x="557" y="293" class="x m">118.06 AAW</text>
<text x="617" y="265" class="x">Tep</text>
<text x="618" y="312" class="x m">shr</text>
<text x="591" y="315" class="x m">P</text>
<text x="621" y="346" class="x m" font-size="8">900</text>
<text x="413" y="317" class="x m">21.09 AAW</text>
<text x="376" y="333" class="x m">DP</text>
<text x="387" y="569" class="x m">DP</text>
<text x="419" y="569" class="x m">Tep</text>
<text x="487" y="584" class="x m">DP</text>
<text x="691" y="606" class="x m">DP</text>
<text x="525" y="587" class="x m">21.18 ASD</text>
<text x="589" y="603" class="x m">15.09 AFW</text>
<text x="590" y="611" class="x m">(picture)</text>
<text x="866" y="242" class="x">DP +</text>
<text x="867" y="250" class="x">RWH</text>
<text x="869" y="328" class="x m">DP</text>
<text x="955" y="593" class="x m">DP</text>
<text x="692" y="462" class="x m">wm</text>
<text x="718" y="462" class="x m">dryer</text>
<text x="723" y="575" class="m" font-size="5.5">(Incl. Slab)</text>
<text x="925" y="524" class="m" font-size="5.5">(Incl. Slab)</text>
<text x="794" y="625" class="m" font-size="6">(No Slab)</text>
<text class="x m" transform="translate(381,493) rotate(-90)">12.18 AAW</text>
<text class="x m" transform="translate(883,478) rotate(-90)">21.06 AAW</text>
<text class="x m" transform="translate(883,540) rotate(-90)">21.06 AAW</text>
<text class="x m" transform="translate(829,295) rotate(-90)">(Auto)</text>
<text class="x m" transform="translate(837,292) rotate(-90)">21.24 Panel-lift Door</text>
<text class="x m" transform="translate(852,393) rotate(-90)">(Auto)</text>
<text class="x m" transform="translate(860,390) rotate(-90)">21.24 Panel-lift Door</text>
</g>
<g font-size="9.5">
<text x="470" y="320" class="m" font-size="9.5">2400h robe</text>
<text x="470" y="561" class="m" font-size="9.5">2400h robe</text>
<text x="833" y="458" class="m" font-size="9.5">2700h robe</text>
<text x="485" y="428" class="m" font-size="9.5">820</text>
<text x="485" y="538" class="m" font-size="9.5">820</text>
<text x="645" y="367" class="m" font-size="9.5">820</text>
<text x="767" y="488" class="m" font-size="9.5">820</text>
<text x="743" y="460" class="m" font-size="8.5">Brm.</text>
<text x="613" y="386" class="m" font-size="9.5">1350</text>
<text x="642" y="383" class="m" font-size="9.5">90</text>
<text x="612" y="400" class="m" font-size="7.5">wc</text>
<text class="m" font-size="9.5" transform="translate(741.5,530) rotate(-90)">820</text>
<text class="m" font-size="9.5" transform="translate(515,340) rotate(-90)">720</text>
<text class="m" font-size="10" transform="translate(683.5,290) rotate(-90)">2655</text>
<text class="m" font-size="10" transform="translate(683.5,390) rotate(-90)">2945</text>
<text class="m" font-size="10" transform="translate(552.5,545) rotate(-90)">1390</text>
<text class="m" font-size="10" transform="translate(661.5,623) rotate(-90)">1750</text>
<text class="m" font-size="10" transform="translate(678.5,627) rotate(-90)">Pergola</text>
<text class="m" font-size="10" transform="translate(928.5,617) rotate(-90)">1910</text>
<text class="m" font-size="10" transform="translate(946.5,612) rotate(-90)">Pergola</text>
</g>
<g>
<text x="444" y="383" class="rm">Bed 3</text>
<text x="438" y="511" class="rm">Bed 2</text>
<text x="551" y="334" class="rm">Bath</text>
<text x="574" y="432" class="rm">Lounge</text>
<text x="742" y="362" class="rm">Garage</text>
<text x="705" y="491" class="rm">L'dry</text>
<text x="812" y="522" class="rm">Bed 4</text>
<text x="921" y="513" class="rm">Porch 2</text>
<text x="712" y="521" class="m" font-size="13">Ent.</text>
<text x="723" y="566" class="m" font-size="13">Por.1</text>
<text x="791" y="614" class="m" font-size="13">Pergola</text>
</g>

<!-- SECTION MARKERS -->
<g stroke="#111" fill="#fff">
<circle cx="597" cy="127" r="10" stroke-width="1.2"/>
<path d="M588,131 L597,140 L606,131" fill="none" stroke-width="3.5"/>
<circle cx="315" cy="433" r="10" stroke-width="1.2"/>
<path d="M319,424 L327,433 L319,442" fill="none" stroke-width="3.5"/>
<circle cx="1213" cy="400" r="10" stroke-width="1.2"/>
<path d="M1209,391 L1201,400 L1209,409" fill="none" stroke-width="3.5"/>
<circle cx="616" cy="647" r="10" stroke-width="1.2"/>
<path d="M607,643 L616,634 L625,643" fill="none" stroke-width="3.5"/>
<path d="M790,208 L803,198 A12,12 0 1 1 803,218 Z" stroke-width="2"/>
<line x1="800" y1="208" x2="823" y2="208" stroke-width="0.8"/>
<path d="M790,680 L803,670 A12,12 0 1 1 803,690 Z" stroke-width="2"/>
<line x1="800" y1="680" x2="823" y2="680" stroke-width="0.8"/>
</g>
<g style="font-style:normal">
<text x="597" y="132" class="m n" font-size="12">4</text>
<text x="314" y="438" class="m n" font-size="12">3</text>
<text x="1215" y="405" class="m n" font-size="12">1</text>
<text x="616" y="653" class="m n" font-size="12">2</text>
<text x="811" y="206" class="m n" font-size="10">A</text>
<text x="811" y="216" class="m n" font-size="7">6</text>
<text x="811" y="678" class="m n" font-size="10">A</text>
<text x="811" y="688" class="m n" font-size="7">6</text>
</g>

<!-- STAIR DETAILS -->
<rect x="1152" y="748" width="251" height="114" fill="none" stroke="#222" stroke-width="1"/>
<line x1="1152" y1="768" x2="1403" y2="768" stroke="#222" stroke-width="1"/>
<text x="1156" y="765" font-size="14.8">STAIR DETAILS</text>
<text x="1156" y="779" class="b">Stair lock or similar proprietary approved designed</text>
<text x="1156" y="791" class="b">stair and handrail in accordance with Building Code of</text>
<text x="1156" y="804" class="b">Australia requirements (190mm max. riser &amp; 240mm</text>
<text x="1156" y="817" class="b">min. going) non slip finish</text>
<text x="1156" y="843" class="b">17 risers @ 183.53mm high</text>
<text x="1156" y="856" class="b">16 treads @ 250mm</text>

<!-- TITLE -->
<text x="17" y="873" font-size="24">Ground Floor Plan</text>
<text x="9" y="643" font-size="9" style="fill:#bbb">( )</text>
</svg>
</body></html>
